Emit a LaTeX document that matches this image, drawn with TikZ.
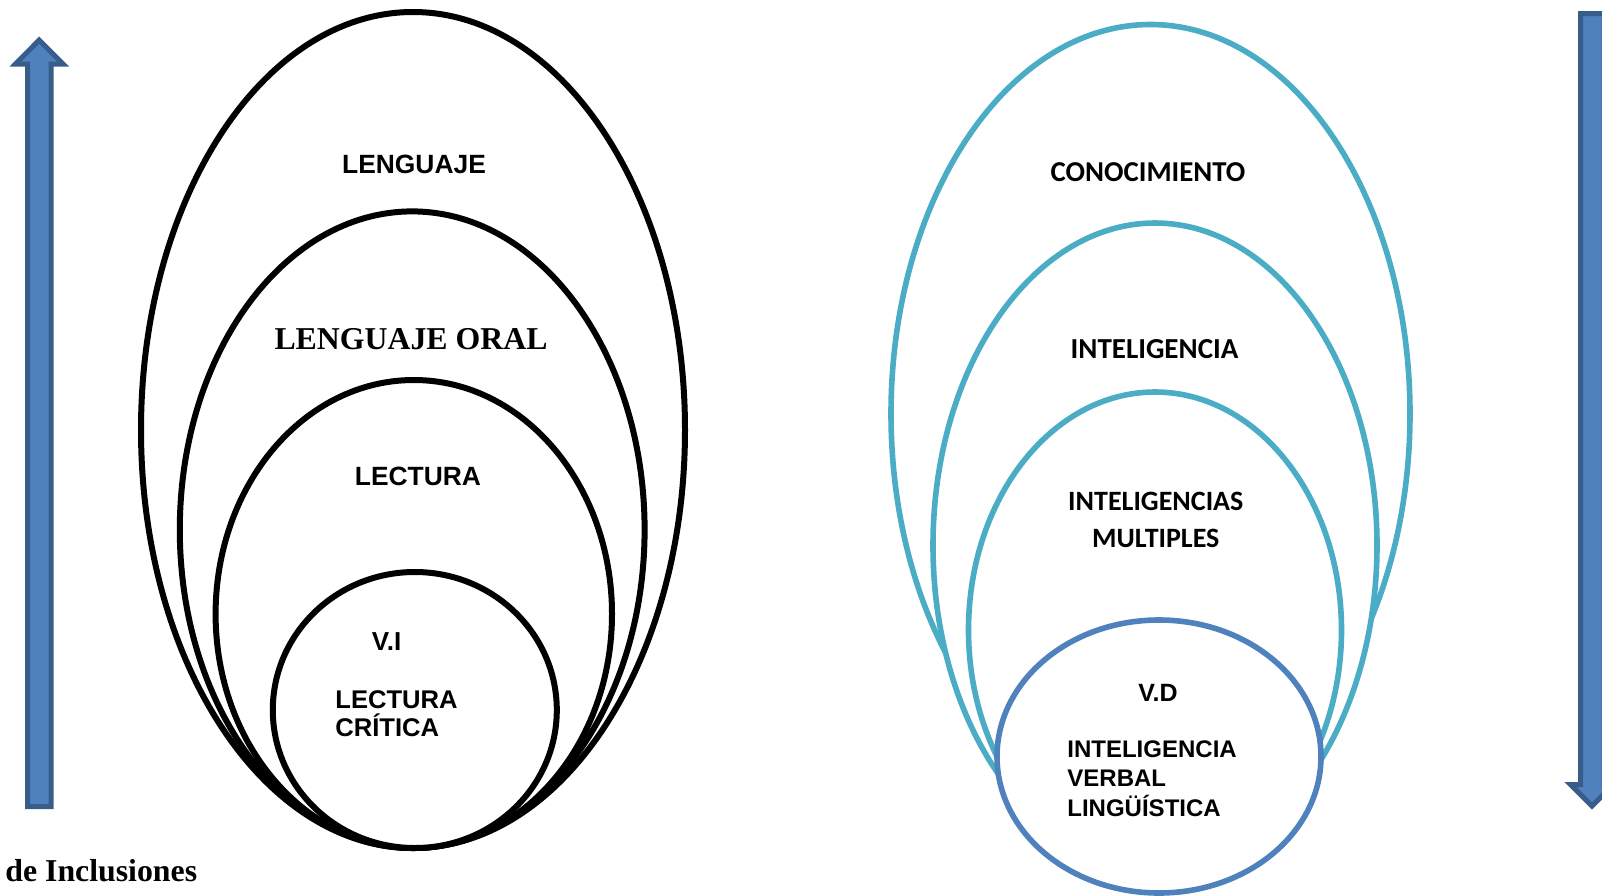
\documentclass[tikz,border=0pt]{standalone}
\usepackage{fontspec}
\usepackage{tikz}
\usetikzlibrary{shapes, positioning}
\newfontfamily\arialf{Liberation Sans}
\newfontfamily\timesf{Liberation Serif}
\newfontfamily\calibrif{Carlito}
\definecolor{ringcyan}{HTML}{4BACC6}
\definecolor{ringblue}{HTML}{4F81BD}
\definecolor{arrowedge}{HTML}{385D8A}

\begin{document}
\begin{tikzpicture}[x=0.5pt, y=-0.5pt,
    ring/.style = {draw, ellipse, inner sep=0pt, fill=white, line width=3pt},
    cring/.style = {ring, draw=ringcyan, line width=2.8pt},
    bring/.style = {ring, draw=ringblue, line width=2.8pt},
    sans/.style = {inner sep=0pt, font=\arialf\bfseries\fontsize{13pt}{13pt}\selectfont},
    cal/.style = {inner sep=0pt, font=\calibrif\bfseries\fontsize{14pt}{18.25pt}\selectfont},
    bigarrow/.style = {fill=ringblue, draw=arrowedge, line width=2.5pt, line join=miter}]
    \useasboundingbox (0,0) rectangle (1602,895);

    % left side
    \node[ring, minimum width=272pt, minimum height=418pt] (lenguaje) at (413,430) {};
    \node[ring, minimum width=232.4pt, minimum height=318.3pt] (oral) at (412.2,529.7) {};
    \node[ring, minimum width=198.2pt, minimum height=234pt] (lectura) at (413.8,614) {};
    \node[ring, minimum width=142pt, minimum height=138pt] (critica) at (414.8,710) {};

    \node[sans, font=\arialf\bfseries\fontsize{13.2pt}{13pt}\selectfont] (tlenguaje) at (414,164.5) {LENGUAJE};
    \node[inner sep=0pt, font=\timesf\bfseries\fontsize{15.9pt}{16pt}\selectfont] (toral) at (411,339) {LENGUAJE ORAL};
    \node[sans, font=\arialf\bfseries\fontsize{13.2pt}{13pt}\selectfont] (tlectura) at (418,476) {LECTURA};
    \node[sans] (tvi) at (386.5,642) {V.I};
    \node[sans, font=\arialf\bfseries\fontsize{12.8pt}{14pt}\selectfont, align=left, anchor=west] (tcritica) at (335,713.4) {LECTURA\\CRÍTICA};

    % right side
    \node[cring, minimum width=259.5pt, minimum height=389.3pt] (conocimiento) at (1150.5,413.8) {};
    \node[cring, minimum width=222pt, minimum height=322.5pt] (inteligencia) at (1155,545.5) {};
    \node[cring, minimum width=186.5pt, minimum height=238pt] (multiples) at (1155,630) {};
    \node[bring, minimum width=162pt, minimum height=136.5pt] (verbal) at (1159,756.5) {};

    \node[cal, font=\calibrif\bfseries\fontsize{14.4pt}{18pt}\selectfont] (tconocimiento) at (1148,172.5) {CONOCIMIENTO};
    \node[cal, font=\calibrif\bfseries\fontsize{14.5pt}{18pt}\selectfont] (tinteligencia) at (1154.5,349.4) {INTELIGENCIA};
    \node[cal, align=center] (tmultiples) at (1155.8,520) {INTELIGENCIAS\\MULTIPLES};
    \node[sans, font=\arialf\bfseries\fontsize{12.5pt}{13pt}\selectfont] (tvd) at (1158,693) {V.D};
    \node[sans, font=\arialf\bfseries\fontsize{12pt}{14.75pt}\selectfont, align=left, anchor=west] (tverbal) at (1067,778.3) {INTELIGENCIA\\VERBAL\\LINGÜÍSTICA};

    \node[inner sep=0pt, anchor=base west, font=\timesf\bfseries\fontsize{15.9pt}{16pt}\selectfont] (tinclusiones) at (5,881) {de Inclusiones};

    % arrows
    \draw[bigarrow] (27.5,806.5) -- (27.5,64) -- (15.5,64) -- (39.2,40) -- (63,64) -- (51,64) -- (51,806.5) -- cycle;
    \draw[bigarrow] (1580.5,13.5) -- (1580.5,784.5) -- (1570.5,784.5) -- (1592,806) -- (1613.5,784.5) -- (1604,784.5) -- (1604,13.5) -- cycle;
\end{tikzpicture}
\end{document}
